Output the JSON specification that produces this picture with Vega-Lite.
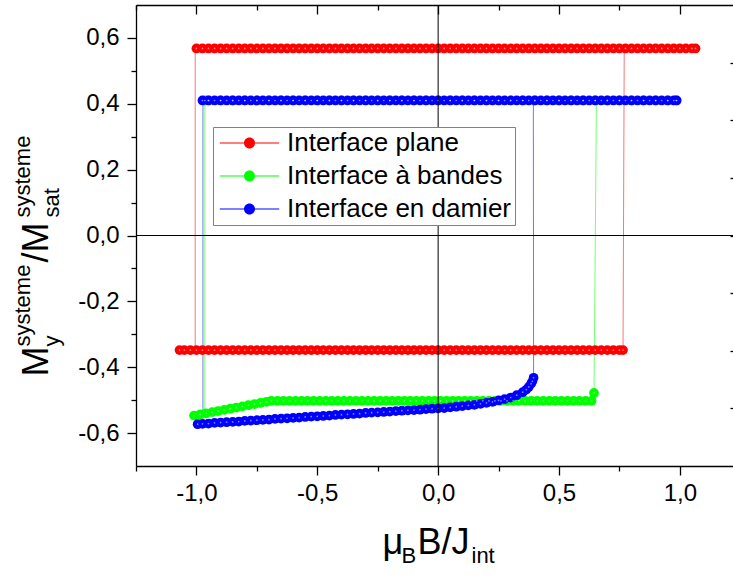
{
"$schema": "https://vega.github.io/schema/vega-lite/v6.json",
"width": 597, "height": 461,
"autosize": {"type": "none"},
"padding": {"left": 136, "top": 5, "right": 0, "bottom": 113},
"background": "white",
"config": {
  "view": {"stroke": null},
  "font": "Liberation Sans",
  "axis": {"grid": false, "domainColor": "black", "tickColor": "black", "labelColor": "black", "titleColor": "black", "titleFont": "Liberation Sans", "labelFont": "Liberation Sans", "titleFontWeight": "normal", "domainWidth": 1.3, "tickWidth": 1.3, "titleAlign": "left", "titleBaseline": "alphabetic"},
  "axisX": {"titleAngle": 0},
  "axisY": {"titleAngle": -90}
},
"datasets": {
"one": [{"z": 0}],
"lns": [
{"s":"Interface plane","o":1,"x":1.065,"y":0.568},{"s":"Interface plane","o":2,"x":-1.005,"y":0.568},{"s":"Interface plane","o":3,"x":-1.005,"y":-0.348},{"s":"Interface plane","o":4,"x":-1.07,"y":-0.348},{"s":"Interface plane","o":5,"x":0.765,"y":-0.348},{"s":"Interface plane","o":6,"x":0.77,"y":0.568},{"s":"Interface plane","o":7,"x":1.065,"y":0.568},
{"s":"Interface à bandes","o":1,"x":0.99,"y":0.41},{"s":"Interface à bandes","o":2,"x":-0.965,"y":0.41},{"s":"Interface à bandes","o":3,"x":-0.965,"y":-0.54},{"s":"Interface à bandes","o":4,"x":-1.01,"y":-0.547},{"s":"Interface à bandes","o":5,"x":-0.69,"y":-0.502},{"s":"Interface à bandes","o":6,"x":0.635,"y":-0.502},{"s":"Interface à bandes","o":7,"x":0.645,"y":-0.478},{"s":"Interface à bandes","o":8,"x":0.655,"y":0.41},{"s":"Interface à bandes","o":9,"x":0.99,"y":0.41},
{"s":"Interface en damier","o":1,"x":0.987,"y":0.41},{"s":"Interface en damier","o":2,"x":-0.973,"y":0.41},{"s":"Interface en damier","o":3,"x":-0.973,"y":-0.57},{"s":"Interface en damier","o":4,"x":-0.995,"y":-0.573},{"s":"Interface en damier","o":5,"x":0,"y":-0.525},{"s":"Interface en damier","o":6,"x":0.3,"y":-0.492},{"s":"Interface en damier","o":7,"x":0.39,"y":-0.443},{"s":"Interface en damier","o":8,"x":0.395,"y":-0.432},{"s":"Interface en damier","o":9,"x":0.394,"y":0.41},{"s":"Interface en damier","o":10,"x":0.987,"y":0.41}
],
"pts": [
{"s":"Interface plane","x":-1,"y":0.568},{"s":"Interface plane","x":-0.975,"y":0.568},{"s":"Interface plane","x":-0.95,"y":0.568},{"s":"Interface plane","x":-0.925,"y":0.568},{"s":"Interface plane","x":-0.9,"y":0.568},{"s":"Interface plane","x":-0.875,"y":0.568},{"s":"Interface plane","x":-0.85,"y":0.568},{"s":"Interface plane","x":-0.825,"y":0.568},{"s":"Interface plane","x":-0.8,"y":0.568},{"s":"Interface plane","x":-0.775,"y":0.568},{"s":"Interface plane","x":-0.75,"y":0.568},{"s":"Interface plane","x":-0.725,"y":0.568},{"s":"Interface plane","x":-0.7,"y":0.568},{"s":"Interface plane","x":-0.675,"y":0.568},{"s":"Interface plane","x":-0.65,"y":0.568},{"s":"Interface plane","x":-0.625,"y":0.568},{"s":"Interface plane","x":-0.6,"y":0.568},{"s":"Interface plane","x":-0.575,"y":0.568},{"s":"Interface plane","x":-0.55,"y":0.568},{"s":"Interface plane","x":-0.525,"y":0.568},{"s":"Interface plane","x":-0.5,"y":0.568},{"s":"Interface plane","x":-0.475,"y":0.568},{"s":"Interface plane","x":-0.45,"y":0.568},{"s":"Interface plane","x":-0.425,"y":0.568},{"s":"Interface plane","x":-0.4,"y":0.568},{"s":"Interface plane","x":-0.375,"y":0.568},{"s":"Interface plane","x":-0.35,"y":0.568},{"s":"Interface plane","x":-0.325,"y":0.568},{"s":"Interface plane","x":-0.3,"y":0.568},{"s":"Interface plane","x":-0.275,"y":0.568},{"s":"Interface plane","x":-0.25,"y":0.568},{"s":"Interface plane","x":-0.225,"y":0.568},{"s":"Interface plane","x":-0.2,"y":0.568},{"s":"Interface plane","x":-0.175,"y":0.568},{"s":"Interface plane","x":-0.15,"y":0.568},{"s":"Interface plane","x":-0.125,"y":0.568},{"s":"Interface plane","x":-0.1,"y":0.568},{"s":"Interface plane","x":-0.075,"y":0.568},{"s":"Interface plane","x":-0.05,"y":0.568},{"s":"Interface plane","x":-0.025,"y":0.568},{"s":"Interface plane","x":0,"y":0.568},{"s":"Interface plane","x":0.025,"y":0.568},{"s":"Interface plane","x":0.05,"y":0.568},{"s":"Interface plane","x":0.075,"y":0.568},{"s":"Interface plane","x":0.1,"y":0.568},{"s":"Interface plane","x":0.125,"y":0.568},{"s":"Interface plane","x":0.15,"y":0.568},{"s":"Interface plane","x":0.175,"y":0.568},{"s":"Interface plane","x":0.2,"y":0.568},{"s":"Interface plane","x":0.225,"y":0.568},{"s":"Interface plane","x":0.25,"y":0.568},{"s":"Interface plane","x":0.275,"y":0.568},{"s":"Interface plane","x":0.3,"y":0.568},{"s":"Interface plane","x":0.325,"y":0.568},{"s":"Interface plane","x":0.35,"y":0.568},{"s":"Interface plane","x":0.375,"y":0.568},{"s":"Interface plane","x":0.4,"y":0.568},{"s":"Interface plane","x":0.425,"y":0.568},{"s":"Interface plane","x":0.45,"y":0.568},{"s":"Interface plane","x":0.475,"y":0.568},{"s":"Interface plane","x":0.5,"y":0.568},{"s":"Interface plane","x":0.525,"y":0.568},{"s":"Interface plane","x":0.55,"y":0.568},{"s":"Interface plane","x":0.575,"y":0.568},{"s":"Interface plane","x":0.6,"y":0.568},{"s":"Interface plane","x":0.625,"y":0.568},{"s":"Interface plane","x":0.65,"y":0.568},{"s":"Interface plane","x":0.675,"y":0.568},{"s":"Interface plane","x":0.7,"y":0.568},{"s":"Interface plane","x":0.725,"y":0.568},{"s":"Interface plane","x":0.75,"y":0.568},{"s":"Interface plane","x":0.775,"y":0.568},{"s":"Interface plane","x":0.8,"y":0.568},{"s":"Interface plane","x":0.825,"y":0.568},{"s":"Interface plane","x":0.85,"y":0.568},{"s":"Interface plane","x":0.875,"y":0.568},{"s":"Interface plane","x":0.9,"y":0.568},{"s":"Interface plane","x":0.925,"y":0.568},{"s":"Interface plane","x":0.95,"y":0.568},{"s":"Interface plane","x":0.975,"y":0.568},{"s":"Interface plane","x":1,"y":0.568},{"s":"Interface plane","x":1.025,"y":0.568},{"s":"Interface plane","x":1.05,"y":0.568},{"s":"Interface plane","x":1.065,"y":0.568},
{"s":"Interface plane","x":-1.07,"y":-0.348},{"s":"Interface plane","x":-1.05,"y":-0.348},{"s":"Interface plane","x":-1.025,"y":-0.348},{"s":"Interface plane","x":-1,"y":-0.348},{"s":"Interface plane","x":-0.975,"y":-0.348},{"s":"Interface plane","x":-0.95,"y":-0.348},{"s":"Interface plane","x":-0.925,"y":-0.348},{"s":"Interface plane","x":-0.9,"y":-0.348},{"s":"Interface plane","x":-0.875,"y":-0.348},{"s":"Interface plane","x":-0.85,"y":-0.348},{"s":"Interface plane","x":-0.825,"y":-0.348},{"s":"Interface plane","x":-0.8,"y":-0.348},{"s":"Interface plane","x":-0.775,"y":-0.348},{"s":"Interface plane","x":-0.75,"y":-0.348},{"s":"Interface plane","x":-0.725,"y":-0.348},{"s":"Interface plane","x":-0.7,"y":-0.348},{"s":"Interface plane","x":-0.675,"y":-0.348},{"s":"Interface plane","x":-0.65,"y":-0.348},{"s":"Interface plane","x":-0.625,"y":-0.348},{"s":"Interface plane","x":-0.6,"y":-0.348},{"s":"Interface plane","x":-0.575,"y":-0.348},{"s":"Interface plane","x":-0.55,"y":-0.348},{"s":"Interface plane","x":-0.525,"y":-0.348},{"s":"Interface plane","x":-0.5,"y":-0.348},{"s":"Interface plane","x":-0.475,"y":-0.348},{"s":"Interface plane","x":-0.45,"y":-0.348},{"s":"Interface plane","x":-0.425,"y":-0.348},{"s":"Interface plane","x":-0.4,"y":-0.348},{"s":"Interface plane","x":-0.375,"y":-0.348},{"s":"Interface plane","x":-0.35,"y":-0.348},{"s":"Interface plane","x":-0.325,"y":-0.348},{"s":"Interface plane","x":-0.3,"y":-0.348},{"s":"Interface plane","x":-0.275,"y":-0.348},{"s":"Interface plane","x":-0.25,"y":-0.348},{"s":"Interface plane","x":-0.225,"y":-0.348},{"s":"Interface plane","x":-0.2,"y":-0.348},{"s":"Interface plane","x":-0.175,"y":-0.348},{"s":"Interface plane","x":-0.15,"y":-0.348},{"s":"Interface plane","x":-0.125,"y":-0.348},{"s":"Interface plane","x":-0.1,"y":-0.348},{"s":"Interface plane","x":-0.075,"y":-0.348},{"s":"Interface plane","x":-0.05,"y":-0.348},{"s":"Interface plane","x":-0.025,"y":-0.348},{"s":"Interface plane","x":0,"y":-0.348},{"s":"Interface plane","x":0.025,"y":-0.348},{"s":"Interface plane","x":0.05,"y":-0.348},{"s":"Interface plane","x":0.075,"y":-0.348},{"s":"Interface plane","x":0.1,"y":-0.348},{"s":"Interface plane","x":0.125,"y":-0.348},{"s":"Interface plane","x":0.15,"y":-0.348},{"s":"Interface plane","x":0.175,"y":-0.348},{"s":"Interface plane","x":0.2,"y":-0.348},{"s":"Interface plane","x":0.225,"y":-0.348},{"s":"Interface plane","x":0.25,"y":-0.348},{"s":"Interface plane","x":0.275,"y":-0.348},{"s":"Interface plane","x":0.3,"y":-0.348},{"s":"Interface plane","x":0.325,"y":-0.348},{"s":"Interface plane","x":0.35,"y":-0.348},{"s":"Interface plane","x":0.375,"y":-0.348},{"s":"Interface plane","x":0.4,"y":-0.348},{"s":"Interface plane","x":0.425,"y":-0.348},{"s":"Interface plane","x":0.45,"y":-0.348},{"s":"Interface plane","x":0.475,"y":-0.348},{"s":"Interface plane","x":0.5,"y":-0.348},{"s":"Interface plane","x":0.525,"y":-0.348},{"s":"Interface plane","x":0.55,"y":-0.348},{"s":"Interface plane","x":0.575,"y":-0.348},{"s":"Interface plane","x":0.6,"y":-0.348},{"s":"Interface plane","x":0.625,"y":-0.348},{"s":"Interface plane","x":0.65,"y":-0.348},{"s":"Interface plane","x":0.675,"y":-0.348},{"s":"Interface plane","x":0.7,"y":-0.348},{"s":"Interface plane","x":0.725,"y":-0.348},{"s":"Interface plane","x":0.75,"y":-0.348},{"s":"Interface plane","x":0.765,"y":-0.348},
{"s":"Interface à bandes","x":-0.965,"y":0.41},{"s":"Interface à bandes","x":-0.95,"y":0.41},{"s":"Interface à bandes","x":-0.9,"y":0.41},{"s":"Interface à bandes","x":-0.85,"y":0.41},{"s":"Interface à bandes","x":-0.8,"y":0.41},{"s":"Interface à bandes","x":-0.75,"y":0.41},{"s":"Interface à bandes","x":-0.7,"y":0.41},{"s":"Interface à bandes","x":-0.65,"y":0.41},{"s":"Interface à bandes","x":-0.6,"y":0.41},{"s":"Interface à bandes","x":-0.55,"y":0.41},{"s":"Interface à bandes","x":-0.5,"y":0.41},{"s":"Interface à bandes","x":-0.45,"y":0.41},{"s":"Interface à bandes","x":-0.4,"y":0.41},{"s":"Interface à bandes","x":-0.35,"y":0.41},{"s":"Interface à bandes","x":-0.3,"y":0.41},{"s":"Interface à bandes","x":-0.25,"y":0.41},{"s":"Interface à bandes","x":-0.2,"y":0.41},{"s":"Interface à bandes","x":-0.15,"y":0.41},{"s":"Interface à bandes","x":-0.1,"y":0.41},{"s":"Interface à bandes","x":-0.05,"y":0.41},{"s":"Interface à bandes","x":0,"y":0.41},{"s":"Interface à bandes","x":0.05,"y":0.41},{"s":"Interface à bandes","x":0.1,"y":0.41},{"s":"Interface à bandes","x":0.15,"y":0.41},{"s":"Interface à bandes","x":0.2,"y":0.41},{"s":"Interface à bandes","x":0.25,"y":0.41},{"s":"Interface à bandes","x":0.3,"y":0.41},{"s":"Interface à bandes","x":0.35,"y":0.41},{"s":"Interface à bandes","x":0.4,"y":0.41},{"s":"Interface à bandes","x":0.45,"y":0.41},{"s":"Interface à bandes","x":0.5,"y":0.41},{"s":"Interface à bandes","x":0.55,"y":0.41},{"s":"Interface à bandes","x":0.6,"y":0.41},{"s":"Interface à bandes","x":0.65,"y":0.41},{"s":"Interface à bandes","x":0.7,"y":0.41},{"s":"Interface à bandes","x":0.75,"y":0.41},{"s":"Interface à bandes","x":0.8,"y":0.41},{"s":"Interface à bandes","x":0.85,"y":0.41},{"s":"Interface à bandes","x":0.9,"y":0.41},{"s":"Interface à bandes","x":0.95,"y":0.41},{"s":"Interface à bandes","x":0.985,"y":0.41},
{"s":"Interface à bandes","x":-1.01,"y":-0.547},{"s":"Interface à bandes","x":-0.985,"y":-0.5435},{"s":"Interface à bandes","x":-0.96,"y":-0.54},{"s":"Interface à bandes","x":-0.935,"y":-0.5365},{"s":"Interface à bandes","x":-0.91,"y":-0.533},{"s":"Interface à bandes","x":-0.885,"y":-0.5295},{"s":"Interface à bandes","x":-0.86,"y":-0.526},{"s":"Interface à bandes","x":-0.835,"y":-0.5225},{"s":"Interface à bandes","x":-0.81,"y":-0.519},{"s":"Interface à bandes","x":-0.785,"y":-0.5155},{"s":"Interface à bandes","x":-0.76,"y":-0.512},{"s":"Interface à bandes","x":-0.735,"y":-0.5085},{"s":"Interface à bandes","x":-0.71,"y":-0.505},{"s":"Interface à bandes","x":-0.69,"y":-0.502},{"s":"Interface à bandes","x":-0.665,"y":-0.502},{"s":"Interface à bandes","x":-0.64,"y":-0.502},{"s":"Interface à bandes","x":-0.615,"y":-0.502},{"s":"Interface à bandes","x":-0.59,"y":-0.502},{"s":"Interface à bandes","x":-0.565,"y":-0.502},{"s":"Interface à bandes","x":-0.54,"y":-0.502},{"s":"Interface à bandes","x":-0.515,"y":-0.502},{"s":"Interface à bandes","x":-0.49,"y":-0.502},{"s":"Interface à bandes","x":-0.465,"y":-0.502},{"s":"Interface à bandes","x":-0.44,"y":-0.502},{"s":"Interface à bandes","x":-0.415,"y":-0.502},{"s":"Interface à bandes","x":-0.39,"y":-0.502},{"s":"Interface à bandes","x":-0.365,"y":-0.502},{"s":"Interface à bandes","x":-0.34,"y":-0.502},{"s":"Interface à bandes","x":-0.315,"y":-0.502},{"s":"Interface à bandes","x":-0.29,"y":-0.502},{"s":"Interface à bandes","x":-0.265,"y":-0.502},{"s":"Interface à bandes","x":-0.24,"y":-0.502},{"s":"Interface à bandes","x":-0.215,"y":-0.502},{"s":"Interface à bandes","x":-0.19,"y":-0.502},{"s":"Interface à bandes","x":-0.165,"y":-0.502},{"s":"Interface à bandes","x":-0.14,"y":-0.502},{"s":"Interface à bandes","x":-0.115,"y":-0.502},{"s":"Interface à bandes","x":-0.09,"y":-0.502},{"s":"Interface à bandes","x":-0.065,"y":-0.502},{"s":"Interface à bandes","x":-0.04,"y":-0.502},{"s":"Interface à bandes","x":-0.015,"y":-0.502},{"s":"Interface à bandes","x":0.01,"y":-0.502},{"s":"Interface à bandes","x":0.035,"y":-0.502},{"s":"Interface à bandes","x":0.06,"y":-0.502},{"s":"Interface à bandes","x":0.085,"y":-0.502},{"s":"Interface à bandes","x":0.11,"y":-0.502},{"s":"Interface à bandes","x":0.135,"y":-0.502},{"s":"Interface à bandes","x":0.16,"y":-0.502},{"s":"Interface à bandes","x":0.185,"y":-0.502},{"s":"Interface à bandes","x":0.21,"y":-0.502},{"s":"Interface à bandes","x":0.235,"y":-0.502},{"s":"Interface à bandes","x":0.26,"y":-0.502},{"s":"Interface à bandes","x":0.285,"y":-0.502},{"s":"Interface à bandes","x":0.31,"y":-0.502},{"s":"Interface à bandes","x":0.335,"y":-0.502},{"s":"Interface à bandes","x":0.36,"y":-0.502},{"s":"Interface à bandes","x":0.385,"y":-0.502},{"s":"Interface à bandes","x":0.41,"y":-0.502},{"s":"Interface à bandes","x":0.435,"y":-0.502},{"s":"Interface à bandes","x":0.46,"y":-0.502},{"s":"Interface à bandes","x":0.485,"y":-0.502},{"s":"Interface à bandes","x":0.51,"y":-0.502},{"s":"Interface à bandes","x":0.535,"y":-0.502},{"s":"Interface à bandes","x":0.56,"y":-0.502},{"s":"Interface à bandes","x":0.585,"y":-0.502},{"s":"Interface à bandes","x":0.61,"y":-0.502},{"s":"Interface à bandes","x":0.635,"y":-0.502},{"s":"Interface à bandes","x":0.645,"y":-0.478},
{"s":"Interface en damier","x":-0.975,"y":0.41},{"s":"Interface en damier","x":-0.95,"y":0.41},{"s":"Interface en damier","x":-0.925,"y":0.41},{"s":"Interface en damier","x":-0.9,"y":0.41},{"s":"Interface en damier","x":-0.875,"y":0.41},{"s":"Interface en damier","x":-0.85,"y":0.41},{"s":"Interface en damier","x":-0.825,"y":0.41},{"s":"Interface en damier","x":-0.8,"y":0.41},{"s":"Interface en damier","x":-0.775,"y":0.41},{"s":"Interface en damier","x":-0.75,"y":0.41},{"s":"Interface en damier","x":-0.725,"y":0.41},{"s":"Interface en damier","x":-0.7,"y":0.41},{"s":"Interface en damier","x":-0.675,"y":0.41},{"s":"Interface en damier","x":-0.65,"y":0.41},{"s":"Interface en damier","x":-0.625,"y":0.41},{"s":"Interface en damier","x":-0.6,"y":0.41},{"s":"Interface en damier","x":-0.575,"y":0.41},{"s":"Interface en damier","x":-0.55,"y":0.41},{"s":"Interface en damier","x":-0.525,"y":0.41},{"s":"Interface en damier","x":-0.5,"y":0.41},{"s":"Interface en damier","x":-0.475,"y":0.41},{"s":"Interface en damier","x":-0.45,"y":0.41},{"s":"Interface en damier","x":-0.425,"y":0.41},{"s":"Interface en damier","x":-0.4,"y":0.41},{"s":"Interface en damier","x":-0.375,"y":0.41},{"s":"Interface en damier","x":-0.35,"y":0.41},{"s":"Interface en damier","x":-0.325,"y":0.41},{"s":"Interface en damier","x":-0.3,"y":0.41},{"s":"Interface en damier","x":-0.275,"y":0.41},{"s":"Interface en damier","x":-0.25,"y":0.41},{"s":"Interface en damier","x":-0.225,"y":0.41},{"s":"Interface en damier","x":-0.2,"y":0.41},{"s":"Interface en damier","x":-0.175,"y":0.41},{"s":"Interface en damier","x":-0.15,"y":0.41},{"s":"Interface en damier","x":-0.125,"y":0.41},{"s":"Interface en damier","x":-0.1,"y":0.41},{"s":"Interface en damier","x":-0.075,"y":0.41},{"s":"Interface en damier","x":-0.05,"y":0.41},{"s":"Interface en damier","x":-0.025,"y":0.41},{"s":"Interface en damier","x":0,"y":0.41},{"s":"Interface en damier","x":0.025,"y":0.41},{"s":"Interface en damier","x":0.05,"y":0.41},{"s":"Interface en damier","x":0.075,"y":0.41},{"s":"Interface en damier","x":0.1,"y":0.41},{"s":"Interface en damier","x":0.125,"y":0.41},{"s":"Interface en damier","x":0.15,"y":0.41},{"s":"Interface en damier","x":0.175,"y":0.41},{"s":"Interface en damier","x":0.2,"y":0.41},{"s":"Interface en damier","x":0.225,"y":0.41},{"s":"Interface en damier","x":0.25,"y":0.41},{"s":"Interface en damier","x":0.275,"y":0.41},{"s":"Interface en damier","x":0.3,"y":0.41},{"s":"Interface en damier","x":0.325,"y":0.41},{"s":"Interface en damier","x":0.35,"y":0.41},{"s":"Interface en damier","x":0.375,"y":0.41},{"s":"Interface en damier","x":0.4,"y":0.41},{"s":"Interface en damier","x":0.425,"y":0.41},{"s":"Interface en damier","x":0.45,"y":0.41},{"s":"Interface en damier","x":0.475,"y":0.41},{"s":"Interface en damier","x":0.5,"y":0.41},{"s":"Interface en damier","x":0.525,"y":0.41},{"s":"Interface en damier","x":0.55,"y":0.41},{"s":"Interface en damier","x":0.575,"y":0.41},{"s":"Interface en damier","x":0.6,"y":0.41},{"s":"Interface en damier","x":0.625,"y":0.41},{"s":"Interface en damier","x":0.65,"y":0.41},{"s":"Interface en damier","x":0.675,"y":0.41},{"s":"Interface en damier","x":0.7,"y":0.41},{"s":"Interface en damier","x":0.725,"y":0.41},{"s":"Interface en damier","x":0.75,"y":0.41},{"s":"Interface en damier","x":0.775,"y":0.41},{"s":"Interface en damier","x":0.8,"y":0.41},{"s":"Interface en damier","x":0.825,"y":0.41},{"s":"Interface en damier","x":0.85,"y":0.41},{"s":"Interface en damier","x":0.875,"y":0.41},{"s":"Interface en damier","x":0.9,"y":0.41},{"s":"Interface en damier","x":0.925,"y":0.41},{"s":"Interface en damier","x":0.95,"y":0.41},{"s":"Interface en damier","x":0.975,"y":0.41},{"s":"Interface en damier","x":0.987,"y":0.41},
{"s":"Interface en damier","x":-0.995,"y":-0.573},{"s":"Interface en damier","x":-0.975,"y":-0.572},{"s":"Interface en damier","x":-0.95,"y":-0.571},{"s":"Interface en damier","x":-0.925,"y":-0.569},{"s":"Interface en damier","x":-0.9,"y":-0.568},{"s":"Interface en damier","x":-0.875,"y":-0.567},{"s":"Interface en damier","x":-0.85,"y":-0.566},{"s":"Interface en damier","x":-0.825,"y":-0.565},{"s":"Interface en damier","x":-0.8,"y":-0.563},{"s":"Interface en damier","x":-0.775,"y":-0.562},{"s":"Interface en damier","x":-0.75,"y":-0.561},{"s":"Interface en damier","x":-0.725,"y":-0.56},{"s":"Interface en damier","x":-0.7,"y":-0.559},{"s":"Interface en damier","x":-0.675,"y":-0.557},{"s":"Interface en damier","x":-0.65,"y":-0.556},{"s":"Interface en damier","x":-0.625,"y":-0.555},{"s":"Interface en damier","x":-0.6,"y":-0.554},{"s":"Interface en damier","x":-0.575,"y":-0.553},{"s":"Interface en damier","x":-0.55,"y":-0.551},{"s":"Interface en damier","x":-0.525,"y":-0.55},{"s":"Interface en damier","x":-0.5,"y":-0.549},{"s":"Interface en damier","x":-0.475,"y":-0.548},{"s":"Interface en damier","x":-0.45,"y":-0.547},{"s":"Interface en damier","x":-0.425,"y":-0.545},{"s":"Interface en damier","x":-0.4,"y":-0.544},{"s":"Interface en damier","x":-0.375,"y":-0.543},{"s":"Interface en damier","x":-0.35,"y":-0.542},{"s":"Interface en damier","x":-0.325,"y":-0.541},{"s":"Interface en damier","x":-0.3,"y":-0.539},{"s":"Interface en damier","x":-0.275,"y":-0.538},{"s":"Interface en damier","x":-0.25,"y":-0.537},{"s":"Interface en damier","x":-0.225,"y":-0.536},{"s":"Interface en damier","x":-0.2,"y":-0.535},{"s":"Interface en damier","x":-0.175,"y":-0.533},{"s":"Interface en damier","x":-0.15,"y":-0.532},{"s":"Interface en damier","x":-0.125,"y":-0.531},{"s":"Interface en damier","x":-0.1,"y":-0.53},{"s":"Interface en damier","x":-0.075,"y":-0.529},{"s":"Interface en damier","x":-0.05,"y":-0.527},{"s":"Interface en damier","x":-0.025,"y":-0.526},{"s":"Interface en damier","x":0,"y":-0.525},{"s":"Interface en damier","x":0.025,"y":-0.524},{"s":"Interface en damier","x":0.05,"y":-0.522},{"s":"Interface en damier","x":0.075,"y":-0.52},{"s":"Interface en damier","x":0.1,"y":-0.518},{"s":"Interface en damier","x":0.125,"y":-0.516},{"s":"Interface en damier","x":0.15,"y":-0.514},{"s":"Interface en damier","x":0.175,"y":-0.511},{"s":"Interface en damier","x":0.2,"y":-0.508},{"s":"Interface en damier","x":0.225,"y":-0.505},{"s":"Interface en damier","x":0.25,"y":-0.501},{"s":"Interface en damier","x":0.275,"y":-0.497},{"s":"Interface en damier","x":0.3,"y":-0.492},{"s":"Interface en damier","x":0.325,"y":-0.485},{"s":"Interface en damier","x":0.35,"y":-0.476},{"s":"Interface en damier","x":0.365,"y":-0.468},{"s":"Interface en damier","x":0.375,"y":-0.46},{"s":"Interface en damier","x":0.385,"y":-0.45},{"s":"Interface en damier","x":0.39,"y":-0.443},{"s":"Interface en damier","x":0.395,"y":-0.432}
]
},
"resolve": {"axis": {"x": "independent", "y": "independent"}},
"layer": [
{
  "data": {"name": "lns"},
  "mark": {"type": "line", "strokeWidth": 1, "opacity": 0.55},
  "encoding": {
    "x": {"field": "x", "type": "quantitative", "scale": {"domain": [-1.25, 1.22], "nice": false, "zero": false},
      "axis": {"orient": "bottom", "values": [-1, -0.5, 0, 0.5, 1], "tickSize": 9, "labelFontSize": 24, "labelPadding": 6, "labelExpr": "(datum.value < 0 ? '-' : '') + replace(format(abs(datum.value), '.1f'), '.', ',')", "domain": true, "title": "B/J", "titleFontSize": 36, "titleX": 281, "titleY": 87}},
    "y": {"field": "y", "type": "quantitative", "scale": {"domain": [-0.7, 0.7], "nice": false, "zero": false},
      "axis": {"orient": "left", "values": [-0.6, -0.4, -0.2, 0, 0.2, 0.4, 0.6], "tickSize": 9, "labelFontSize": 24, "labelPadding": 8, "labelExpr": "(datum.value < 0 ? '-' : '') + replace(format(abs(datum.value), '.1f'), '.', ',')", "domain": true, "title": "M", "titleFontSize": 36, "titleX": -89, "titleY": 371}},
    "color": {"field": "s", "type": "nominal", "scale": {"domain": ["Interface plane", "Interface à bandes", "Interface en damier"], "range": ["#ff0000", "#00ff00", "#0000ff"]}},
    "detail": {"field": "s"},
    "order": {"field": "o", "type": "quantitative"}
  }
},
{
  "data": {"name": "pts"},
  "mark": {"type": "point", "filled": true, "size": 95, "opacity": 1, "strokeWidth": 0},
  "encoding": {
    "x": {"field": "x", "type": "quantitative", "scale": {"domain": [-1.25, 1.22], "nice": false, "zero": false},
      "axis": {"orient": "bottom", "values": [-1.25, -0.75, -0.25, 0.25, 0.75], "tickSize": 5, "labels": false, "domain": false, "title": "μ", "titleFontSize": 36, "titleX": 246, "titleY": 87}},
    "y": {"field": "y", "type": "quantitative", "scale": {"domain": [-0.7, 0.7], "nice": false, "zero": false},
      "axis": {"orient": "left", "values": [-0.5, -0.3, -0.1, 0.1, 0.3, 0.5], "tickSize": 5, "labels": false, "domain": false, "title": "y", "titleFontSize": 22, "titleX": -78, "titleY": 341}},
    "color": {"field": "s", "type": "nominal", "scale": {"domain": ["Interface plane", "Interface à bandes", "Interface en damier"], "range": ["#ff0000", "#00ff00", "#0000ff"]},
      "legend": {"orient": "none", "legendX": 77, "legendY": 122, "title": null, "symbolType": "M-5.4,-0.09H-1V0.09H-5.4Z M1,-0.09H5.4V0.09H1Z M-1,0A1,1,0,1,0,1,0A1,1,0,1,0,-1,0Z", "symbolSize": 121, "symbolStrokeWidth": 0, "symbolOpacity": 1, "symbolOffset": 20.5, "labelOffset": 24.5, "labelFontSize": 26, "labelFont": "Liberation Sans", "labelColor": "black", "labelLimit": 400, "padding": 3, "rowPadding": 7, "strokeColor": "#808080", "fillColor": "white",
        "encode": {"symbols": {"update": {"fill": {"scale": "color", "field": "value"}, "stroke": {"value": "transparent"}, "opacity": {"value": 1}}}}}}
  }
},
{
  "data": {"name": "pts"},
  "mark": {"type": "point", "filled": true, "size": 3, "opacity": 0.5, "color": "white", "strokeWidth": 0},
  "encoding": {
    "x": {"field": "x", "type": "quantitative", "scale": {"domain": [-1.25, 1.22], "nice": false, "zero": false}, "axis": null},
    "y": {"field": "y", "type": "quantitative", "scale": {"domain": [-0.7, 0.7], "nice": false, "zero": false}, "axis": null}
  }
},
{
  "data": {"name": "one"},
  "mark": {"type": "rule", "color": "black", "strokeWidth": 1},
  "encoding": {
    "x": {"datum": 0, "type": "quantitative", "scale": {"domain": [-1.25, 1.22], "nice": false, "zero": false},
      "axis": {"orient": "top", "values": [-1, -0.5, 0, 0.5, 1], "tickSize": -9, "labels": false, "domain": true, "title": "B", "titleFontSize": 22, "titleX": 265, "titleY": 557}}
  }
},
{
  "data": {"name": "one"},
  "mark": {"type": "rule", "color": "black", "strokeWidth": 1},
  "encoding": {
    "y": {"datum": 0, "type": "quantitative", "scale": {"domain": [-0.7, 0.7], "nice": false, "zero": false},
      "axis": {"orient": "right", "values": [0.525, 0.35, 0.175, 0, -0.175, -0.35, -0.525], "tickSize": -3, "labels": false, "domain": false, "title": "systeme", "titleFontSize": 22, "titleAngle": -90, "titleX": -704, "titleY": 341}}
  }
},
{
  "data": {"name": "lns"},
  "mark": {"type": "point", "opacity": 0},
  "encoding": {
    "x": {"field": "x", "type": "quantitative", "scale": {"domain": [-1.25, 1.22], "nice": false, "zero": false},
      "axis": {"orient": "top", "values": [-1.25, -0.75, -0.25, 0.25, 0.75], "tickSize": -5, "labels": false, "domain": false, "title": "int", "titleFontSize": 22, "titleX": 335, "titleY": 557}},
    "y": {"field": "y", "type": "quantitative", "scale": {"domain": [-0.7, 0.7], "nice": false, "zero": false},
      "axis": {"orient": "left", "ticks": false, "labels": false, "domain": false, "title": "/M", "titleFontSize": 36, "titleX": -89, "titleY": 257}}
  }
},
{
  "data": {"name": "lns"},
  "mark": {"type": "point", "opacity": 0},
  "encoding": {
    "x": {"field": "x", "type": "quantitative", "scale": {"domain": [-1.25, 1.22], "nice": false, "zero": false}, "axis": null},
    "y": {"field": "y", "type": "quantitative", "scale": {"domain": [-0.7, 0.7], "nice": false, "zero": false},
      "axis": {"orient": "left", "ticks": false, "labels": false, "domain": false, "title": "sat", "titleFontSize": 22, "titleX": -78, "titleY": 212}}
  }
},
{
  "data": {"name": "lns"},
  "mark": {"type": "point", "opacity": 0},
  "encoding": {
    "x": {"field": "x", "type": "quantitative", "scale": {"domain": [-1.25, 1.22], "nice": false, "zero": false}, "axis": null},
    "y": {"field": "y", "type": "quantitative", "scale": {"domain": [-0.7, 0.7], "nice": false, "zero": false},
      "axis": {"orient": "left", "ticks": false, "labels": false, "domain": false, "title": "systeme", "titleFontSize": 22, "titleX": -107, "titleY": 212}}
  }
}
]
}
